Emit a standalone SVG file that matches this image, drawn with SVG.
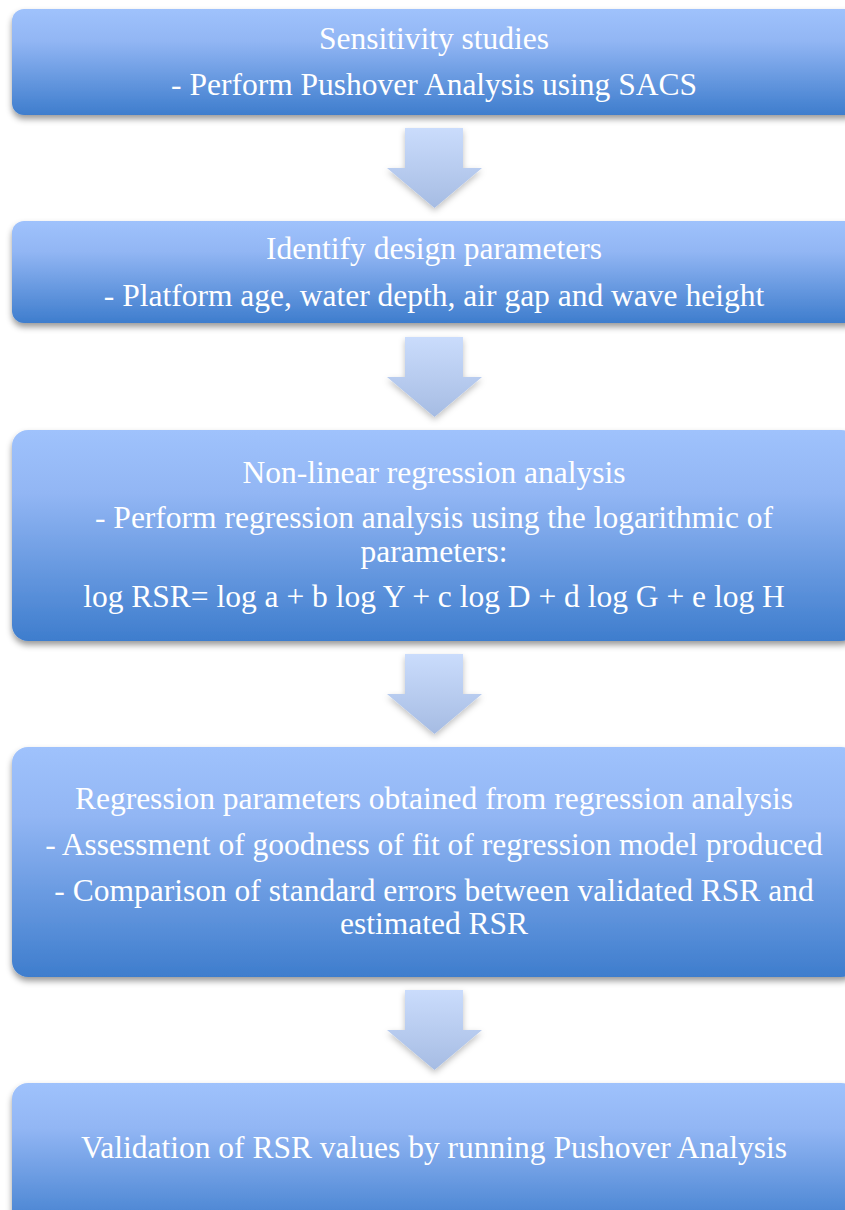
<svg xmlns="http://www.w3.org/2000/svg" width="845" height="1210" viewBox="0 0 845 1210">
<defs>
<linearGradient id="boxGrad" x1="0" y1="0" x2="0" y2="1">
<stop offset="0" stop-color="#9fc2fc"/>
<stop offset="0.3" stop-color="#92b6f4"/>
<stop offset="1" stop-color="#3e7dcd"/>
</linearGradient>
<linearGradient id="arrowGrad" x1="0" y1="0" x2="0" y2="1">
<stop offset="0" stop-color="#cadcfc"/>
<stop offset="1" stop-color="#a6bce3"/>
</linearGradient>
<filter id="shadow" x="-10%" y="-20%" width="120%" height="150%">
<feDropShadow dx="0" dy="4" stdDeviation="3" flood-color="#000" flood-opacity="0.4"/>
</filter>
<filter id="ashadow" x="-30%" y="-20%" width="160%" height="150%">
<feDropShadow dx="0" dy="3" stdDeviation="3" flood-color="#000" flood-opacity="0.25"/>
</filter>
<path id="arrowShape" d="M405,0 H463 V40 H482 L434.5,80 L387,40 H405 Z"/>
</defs>
<style>
.box{fill:url(#boxGrad);filter:url(#shadow);}
.arrow{fill:url(#arrowGrad);filter:url(#ashadow);}
text{font-family:"Liberation Serif","Times New Roman",serif;font-size:31.5px;fill:#ffffff;text-anchor:middle;}
</style>
<rect width="845" height="1210" fill="#ffffff"/>
<g id="connectors">
<use href="#arrowShape" class="arrow" transform="translate(0,128)"/>
<use href="#arrowShape" class="arrow" transform="translate(0,337)"/>
<use href="#arrowShape" class="arrow" transform="translate(0,654)"/>
<use href="#arrowShape" class="arrow" transform="translate(0,990)"/>
</g>
<g id="node1">
<rect class="box" x="12" y="9" width="845" height="106" rx="12"/>
<text x="434" y="49">Sensitivity studies</text>
<text x="434" y="95">- Perform Pushover Analysis using SACS</text>
</g>
<g id="node2">
<rect class="box" x="12" y="221" width="845" height="102" rx="12"/>
<text x="434" y="259">Identify design parameters</text>
<text x="434" y="306">- Platform age, water depth, air gap and wave height</text>
</g>
<g id="node3">
<rect class="box" x="12" y="430" width="845" height="211" rx="16"/>
<text x="434" y="483">Non-linear regression analysis</text>
<text x="434" y="528">- Perform regression analysis using the logarithmic of</text>
<text x="434" y="562">parameters:</text>
<text x="434" y="607">log RSR= log a + b log Y + c log D + d log G + e log H</text>
</g>
<g id="node4">
<rect class="box" x="12" y="747" width="845" height="230" rx="16"/>
<text x="434" y="809">Regression parameters obtained from regression analysis</text>
<text x="434" y="855">- Assessment of goodness of fit of regression model produced</text>
<text x="434" y="901">- Comparison of standard errors between validated RSR and</text>
<text x="434" y="934">estimated RSR</text>
</g>
<g id="node5">
<rect class="box" x="12" y="1083" width="845" height="150" rx="16"/>
<text x="434" y="1158">Validation of RSR values by running Pushover Analysis</text>
</g>
</svg>
